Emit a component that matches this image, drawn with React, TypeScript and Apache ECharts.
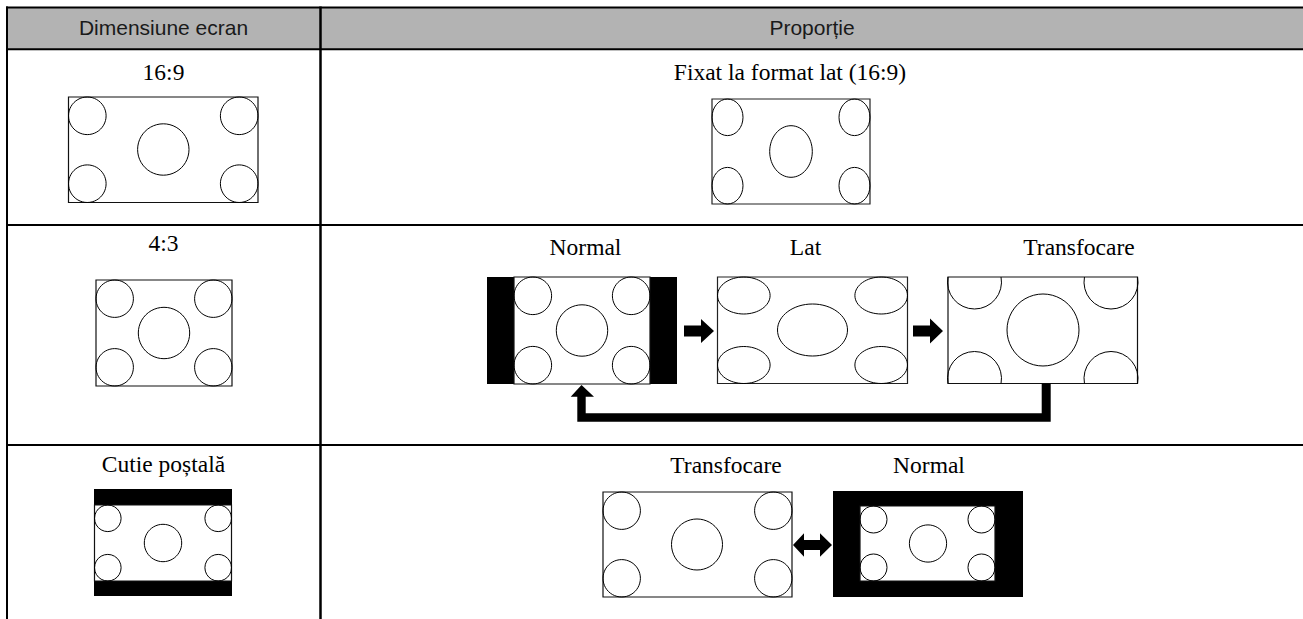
import React, { useEffect, useRef } from "react";
import * as echarts from "echarts";

// ---- Text content ----
const HEADERS = ["Dimensiune ecran", "Proporție"];
const SCREEN_SIZES = ["16:9", "4:3", "Cutie poștală"];
const ROW1_MODES = ["Fixat la format lat (16:9)"];
const ROW2_MODES = ["Normal", "Lat", "Transfocare"];
const ROW3_MODES = ["Transfocare", "Normal"];

const SERIF = "'Liberation Serif', 'Times New Roman', serif";
const SANS = "'Liberation Sans', Arial, sans-serif";
const SERIF_SIZE = 23.5;
const SANS_SIZE = 21;

type El = any;

const line = (x1: number, y1: number, x2: number, y2: number, w = 2): El => ({
  type: "line",
  shape: { x1, y1, x2, y2 },
  style: { stroke: "#000", lineWidth: w },
});

const rect = (x0: number, y0: number, x1: number, y1: number, fill: string, stroke?: string, lw = 1.2): El => ({
  type: "rect",
  shape: { x: x0, y: y0, width: x1 - x0, height: y1 - y0 },
  style: { fill, stroke: stroke || null, lineWidth: stroke ? lw : 0 },
});

const circ = (cx: number, cy: number, r: number): El => ({
  type: "circle",
  shape: { cx, cy, r },
  style: { fill: "none", stroke: "#000", lineWidth: 1 },
});

const ell = (cx: number, cy: number, rx: number, ry: number): El => ({
  type: "ellipse",
  shape: { cx, cy, rx, ry },
  style: { fill: "none", stroke: "#000", lineWidth: 1 },
});

const arc = (cx: number, cy: number, r: number, s: number, e: number): El => ({
  type: "arc",
  shape: { cx, cy, r, startAngle: s, endAngle: e, clockwise: true },
  style: { fill: "none", stroke: "#000", lineWidth: 1 },
});

const text = (t: string, x: number, y: number, serif = true): El => ({
  type: "text",
  x,
  y,
  style: {
    text: t,
    fontSize: serif ? SERIF_SIZE : SANS_SIZE,
    fontFamily: serif ? SERIF : SANS,
    fill: serif ? "#000" : "#1a1a1a",
    align: "center",
    verticalAlign: "middle",
    textAlign: "center",
    textVerticalAlign: "middle",
  },
});

// screen with corner circles touching edges and a center circle
const circleScreen = (x0: number, y0: number, x1: number, y1: number, rc: number, rC: number, cC?: [number, number]): El[] => {
  const cx = cC ? cC[0] : (x0 + x1) / 2;
  const cy = cC ? cC[1] : (y0 + y1) / 2;
  return [
    rect(x0, y0, x1, y1, "#fff", "#111"),
    circ(x0 + rc, y0 + rc, rc),
    circ(x1 - rc, y0 + rc, rc),
    circ(x0 + rc, y1 - rc, rc),
    circ(x1 - rc, y1 - rc, rc),
    circ(cx, cy, rC),
  ];
};

const ellipseScreen = (x0: number, y0: number, x1: number, y1: number, rx: number, ry: number, Rx: number, Ry: number, cC?: [number, number]): El[] => {
  const cx = cC ? cC[0] : (x0 + x1) / 2;
  const cy = cC ? cC[1] : (y0 + y1) / 2;
  return [
    rect(x0, y0, x1, y1, "#fff", "#222"),
    ell(x0 + rx, y0 + ry, rx, ry),
    ell(x1 - rx, y0 + ry, rx, ry),
    ell(x0 + rx, y1 - ry, rx, ry),
    ell(x1 - rx, y1 - ry, rx, ry),
    ell(cx, cy, Rx, Ry),
  ];
};

const arrowRight = (x0: number, xh: number, xt: number, cy: number, sh: number, hh: number): El => ({
  type: "polygon",
  shape: {
    points: [
      [x0, cy - sh], [xh, cy - sh], [xh, cy - hh], [xt, cy],
      [xh, cy + hh], [xh, cy + sh], [x0, cy + sh],
    ],
  },
  style: { fill: "#000" },
});

function buildGraphics(): El[] {
  const els: El[] = [];
  // header
  els.push(rect(7, 7, 1303, 49.3, "#b3b3b3"));
  els.push(line(6, 7.5, 1303, 7.5, 2));
  els.push(line(6, 49.3, 1303, 49.3, 2));
  els.push(line(6, 225, 1303, 225, 2));
  els.push(line(6, 445, 1303, 445, 2));
  els.push(line(7, 6.5, 7, 619, 2));
  els.push(line(320.5, 6.5, 320.5, 619, 2.5));
  els.push(text(HEADERS[0], 163.5, 27, false));
  els.push(text(HEADERS[1], 812, 27, false));

  // left column labels
  els.push(text(SCREEN_SIZES[0], 163.5, 71.5));
  els.push(text(SCREEN_SIZES[1], 163.5, 243));
  els.push(text(SCREEN_SIZES[2], 163.5, 464));

  // Row 1 left: 16:9
  els.push(...circleScreen(68.5, 97, 258, 202.5, 18.8, 25.7, [163.3, 149.5]));
  // Row 1 right: fixed wide
  els.push(text(ROW1_MODES[0], 790, 71.5));
  els.push(...ellipseScreen(712, 99, 870, 204, 15.5, 18.3, 21.3, 25.8, [791, 151.5]));

  // Row 2 left: 4:3
  els.push(...circleScreen(96, 280, 232, 386, 18.7, 25.7, [164, 333]));

  // Row 2 right: Normal
  els.push(text(ROW2_MODES[0], 585.5, 246.5));
  els.push(rect(487, 277, 677, 384, "#000"));
  els.push(...circleScreen(514, 277, 650, 384, 18.8, 25.7, [582, 330.5]));
  // arrow 1
  els.push(arrowRight(684, 701, 714, 331, 5.5, 12));
  // Lat
  els.push(text(ROW2_MODES[1], 805.5, 246.5));
  els.push(...ellipseScreen(717.5, 277, 907.5, 383.5, 26.3, 18.5, 35, 26, [812.5, 330]));
  // arrow 2
  els.push(arrowRight(913, 930, 943, 331, 5.5, 12.5));
  // Transfocare (zoomed, clipped corner circles)
  els.push(text(ROW2_MODES[2], 1079, 246.5));
  const zx0 = 948, zy0 = 277, zx1 = 1137.5, zy1 = 383.5;
  els.push(rect(zx0, zy0, zx1, zy1, "#fff", "#111"));
  const zr = 27, off = 5;
  const a = Math.asin(off / zr);
  els.push(arc(zx0 + 26.5, zy0 + off, zr, -a, Math.PI + a));
  els.push(arc(zx1 - 26.5, zy0 + off, zr, -a, Math.PI + a));
  els.push(arc(zx0 + 26.5, zy1 - off, zr, Math.PI - a, 2 * Math.PI + a));
  els.push(arc(zx1 - 26.5, zy1 - off, zr, Math.PI - a, 2 * Math.PI + a));
  els.push(circ(1043, 330, 36));
  // return loop arrow
  els.push({
    type: "polygon",
    shape: {
      points: [
        [1041.7, 383.5], [1050.7, 383.5], [1050.7, 421.7], [577.3, 421.7],
        [577.3, 396.7], [570.7, 396.7], [581.5, 385], [594, 396.7],
        [585.7, 396.7], [585.7, 413.3], [1041.7, 413.3],
      ],
    },
    style: { fill: "#000" },
  });

  // Row 3 left: letterbox
  els.push(rect(94, 489, 232, 596, "#000"));
  els.push(...circleScreen(94.5, 505, 231.5, 581, 13.3, 18.7, [163, 543]));

  // Row 3 right: Transfocare
  els.push(text(ROW3_MODES[0], 726, 465));
  els.push(...circleScreen(603, 492, 792, 597, 18.7, 25.5, [697, 544.5]));
  // double arrow
  const cy = 545;
  els.push({
    type: "polygon",
    shape: {
      points: [
        [793, cy], [804, cy - 11.7], [804, cy - 5], [820, cy - 5], [820, cy - 11.7],
        [832, cy], [820, cy + 11.7], [820, cy + 5], [804, cy + 5], [804, cy + 11.7],
      ],
    },
    style: { fill: "#000" },
  });
  // Normal
  els.push(text(ROW3_MODES[1], 929, 465));
  els.push(rect(833, 491, 1023, 597, "#000"));
  els.push(...circleScreen(860, 506, 995, 581, 13.5, 18.6, [928, 543.5]));

  return els;
}

export default function App() {
  const ref = useRef<HTMLDivElement>(null);
  useEffect(() => {
    document.body.style.margin = "0";
    if (!ref.current) return;
    const chart = echarts.init(ref.current, undefined, { renderer: "svg" });
    chart.setOption({
      animation: false,
      backgroundColor: "#fff",
      graphic: { elements: buildGraphics() },
    });
    return () => chart.dispose();
  }, []);
  return <div ref={ref} style={{ width: 1303, height: 619 }} />;
}
